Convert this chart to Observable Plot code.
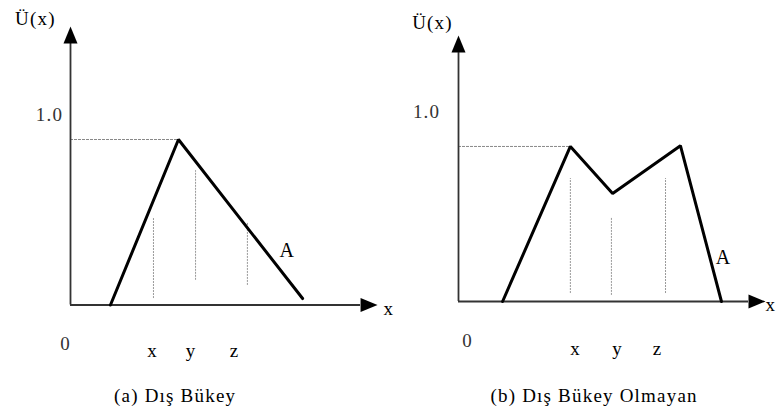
<!DOCTYPE html>
<html>
<head>
<meta charset="utf-8">
<script src="https://cdn.jsdelivr.net/npm/d3@7"></script>
<script src="https://cdn.jsdelivr.net/npm/@observablehq/plot@0.6"></script>
<style>
  body { margin: 0; background: #fff; }
  #row { display: flex; flex-direction: row; width: 776px; height: 417px; overflow: hidden; background: #fff; }
  #row svg { overflow: visible; background: transparent !important; }
  #row svg text { font-family: "Liberation Serif", "DejaVu Serif", serif !important; letter-spacing: 1.2px; }
</style>
</head>
<body>
<div id="row"></div>
<script>
// ---- data (x in abstract units 0..10 along the axis, y = membership degree) ----
const captions = ["(a) Dış Bükey", "(b) Dış Bükey Olmayan"];
const yLabel = "Ü(x)";
const xLabel = "x";
const curveLabel = "A";
const tickLabels = ["x", "y", "z"];
const oneLabel = "1.0";
const zeroLabel = "0";

// panel (a) convex
const convexX = [1.31, 3.54, 7.61];
const convexY = [0, 0.871, 0.034];
const convexPeak = 0.871;
const convexDropX = [2.72, 4.10, 5.80];
const convexDropLo = [0.034, 0.13, 0.103];
const convexDropHi = [0.455, 0.707, 0.434];
const convexTickX = [2.69, 3.95, 5.38];

// panel (b) non-convex
const nonConvexX = [1.45, 3.68, 5.07, 7.30, 8.65];
const nonConvexY = [0, 0.816, 0.568, 0.82, 0];
const nonConvexPeak = 0.816;
const nonConvexDropX = [3.68, 5.03, 6.81];
const nonConvexDropLo = [0.042, 0.032, 0.042];
const nonConvexDropHi = [0.647, 0.442, 0.647];
const nonConvexTickX = [3.85, 5.23, 6.55];

const FONT = "Liberation Serif";

// filled arrowhead (base centre at the anchor, tip pointing up)
const arrowHead = {
  draw(context) {
    context.moveTo(0, -17);
    context.lineTo(7, 0);
    context.lineTo(-7, 0);
    context.closePath();
  }
};

function panel(cfg) {
  const pts = cfg.xs.map((x, i) => ({x, y: cfg.ys[i]}));
  const drops = cfg.dropX.map((x, i) => ({x, y1: cfg.dropLo[i], y2: cfg.dropHi[i]}));
  const ticks = tickLabels.map((t, i) => ({t, x: cfg.tickX[i]}));
  const txt = {fontFamily: FONT, fontSize: 19, fill: "#000"};
  return Plot.plot({
    width: 388,
    height: 417,
    style: {fontFamily: FONT, background: "transparent", overflow: "visible"},
    x: {domain: [0, 10], range: cfg.xRange, axis: null},
    y: {domain: [0, 1], range: cfg.yRange, axis: null},
    marks: [
      Plot.ruleY([cfg.peak], {x1: 0, x2: cfg.xs[1], stroke: "#888", strokeWidth: 1, strokeDasharray: "3,1"}),
      Plot.ruleX(drops, {x: "x", y1: "y1", y2: "y2", stroke: "#999", strokeWidth: 1, strokeDasharray: "2,1"}),
      Plot.ruleX([0], {y1: 0, y2: cfg.axisTop, stroke: "#333", strokeWidth: 1.8}),
      Plot.ruleY([0], {x1: 0, x2: cfg.axisRight, stroke: "#333", strokeWidth: 1.8}),
      Plot.dot([{x: 0, y: cfg.axisTop}], {x: "x", y: "y", symbol: arrowHead, fill: "#000", stroke: null}),
      Plot.dot([{x: cfg.axisRight, y: 0}], {x: "x", y: "y", symbol: arrowHead, fill: "#000", stroke: null, rotate: 90}),
      Plot.line(pts, {x: "x", y: "y", stroke: "#000", strokeWidth: 3, strokeLinejoin: "miter"}),
      Plot.text([yLabel], {x: cfg.yLabelPos[0], y: cfg.yLabelPos[1], ...txt}),
      Plot.text([oneLabel], {x: cfg.onePos[0], y: 1, ...txt, fill: "#333"}),
      Plot.text([zeroLabel], {x: cfg.zeroPos[0], y: cfg.zeroPos[1], ...txt, fill: "#333"}),
      Plot.text(ticks, {x: "x", y: cfg.tickY, text: "t", ...txt}),
      Plot.text([xLabel], {x: cfg.xLabelPos[0], y: cfg.xLabelPos[1], ...txt, textAnchor: "start"}),
      Plot.text([curveLabel], {x: cfg.aPos[0], y: cfg.aPos[1], ...txt, fontSize: 20}),
      Plot.text([cfg.caption], {x: cfg.capPos[0], y: cfg.capPos[1], ...txt})
    ]
  });
}

const row = document.getElementById("row");
row.append(panel({
  xs: convexX, ys: convexY, peak: convexPeak,
  dropX: convexDropX, dropLo: convexDropLo, dropHi: convexDropHi, tickX: convexTickX,
  xRange: [70, 375], yRange: [304.5, 114.5], axisTop: 1.376, axisRight: 9.51,
  yLabelPos: [-1.15, 1.508], onePos: [-0.69], zeroPos: [-0.16, -0.203], tickY: -0.24,
  xLabelPos: [10.26, -0.02], aPos: [7.11, 0.287], capPos: [3.43, -0.476], caption: captions[0]
}));
row.append(panel({
  xs: nonConvexX, ys: nonConvexY, peak: nonConvexPeak,
  dropX: nonConvexDropX, dropLo: nonConvexDropLo, dropHi: nonConvexDropHi, tickX: nonConvexTickX,
  xRange: [70, 374], yRange: [301, 111], axisTop: 1.31, axisRight: 9.54,
  yLabelPos: [-0.855, 1.468], onePos: [-1.05], zeroPos: [0.30, -0.205], tickY: -0.247,
  xLabelPos: [10.1, -0.02], aPos: [8.72, 0.232], capPos: [4.46, -0.495], caption: captions[1]
}));
</script>
</body>
</html>
